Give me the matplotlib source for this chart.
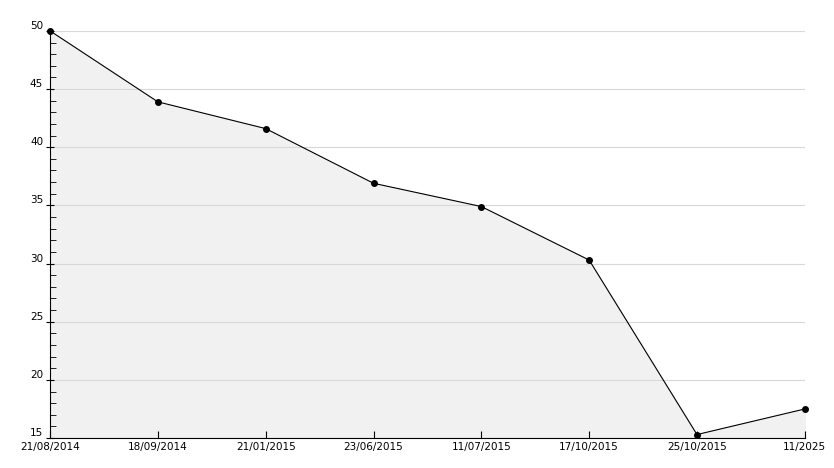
import matplotlib
matplotlib.use("Agg")
import matplotlib.pyplot as plt
from matplotlib.ticker import MultipleLocator

labels = ["21/08/2014", "18/09/2014", "21/01/2015", "23/06/2015", "11/07/2015", "17/10/2015", "25/10/2015", "11/2025"]
values = [50.0, 43.9, 41.6, 36.9, 34.9, 30.3, 15.3, 17.5]

fig = plt.figure(figsize=(8.34, 4.68), dpi=100)
ax = fig.add_axes([0.060, 0.064, 0.905, 0.870])
x = list(range(len(values)))
ax.fill_between(x, values, 15, color="#f1f1f1", zorder=1)
ax.plot(x, values, color="black", lw=0.8, marker="o", ms=4, zorder=3, clip_on=False)
ax.set_xlim(0, len(values) - 1)
ax.set_ylim(15, 50)
ax.yaxis.set_major_locator(MultipleLocator(5))
ax.yaxis.set_minor_locator(MultipleLocator(1))
ax.grid(axis="y", color="#d8d8d8", lw=0.8, zorder=0)
ax.set_xticks(x)
ax.set_xticklabels(labels)
for s in ["top", "right"]:
    ax.spines[s].set_visible(False)
ax.tick_params(axis="y", which="major", direction="inout", length=6, labelsize=7.5, pad=2)
ax.tick_params(axis="y", which="minor", direction="in", length=4)
ax.tick_params(axis="x", direction="in", length=5, labelsize=7.5, pad=3)
for t in ax.get_yticklabels():
    t.set_verticalalignment("bottom")
fig.savefig("out.png")
